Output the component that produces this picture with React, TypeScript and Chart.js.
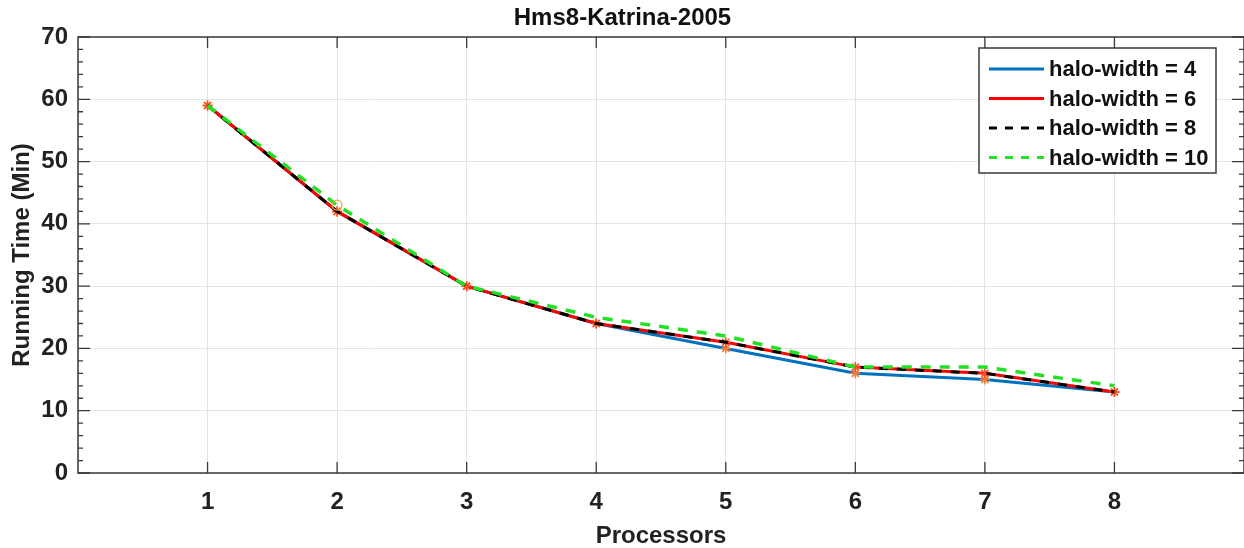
import React, { useEffect, useRef } from "react";
import { Chart, registerables } from "chart.js";

Chart.register(...registerables);

const processors = [1, 2, 3, 4, 5, 6, 7, 8];
const halo4 = [59, 42, 30, 24, 20, 16, 15, 13];
const halo6 = [59, 42, 30, 24, 21, 17, 16, 13];
const halo8 = [59, 42, 30, 24, 21, 17, 16, 13];
const halo10 = [59, 43, 30, 25, 22, 17, 17, 14];
const seriesLabels = ["halo-width = 4", "halo-width = 6", "halo-width = 8", "halo-width = 10"];
const yTicks = [0, 10, 20, 30, 40, 50, 60, 70];
const titleText = "Hms8-Katrina-2005";
const xTitle = "Processors";
const yTitle = "Running Time (Min)";

const FONT = "'Liberation Sans', Arial, sans-serif";

const framePlugin = {
  id: "frame",
  afterDatasetsDraw(chart: any) {
    const { ctx, chartArea: a, scales } = chart;
    const x = scales.x;
    const y = scales.y;
    ctx.save();
    ctx.strokeStyle = "#3a3a3a";
    ctx.lineWidth = 1.5;
    ctx.strokeRect(a.left, a.top, a.right - a.left, a.bottom - a.top);
    ctx.lineWidth = 1.3;
    ctx.beginPath();
    for (let v = 0; v <= 70; v += 2) {
      const py = y.getPixelForValue(v);
      const len = v % 10 === 0 ? 12 : 5;
      ctx.moveTo(a.left, py);
      ctx.lineTo(a.left + len, py);
      ctx.moveTo(a.right, py);
      ctx.lineTo(a.right - len, py);
    }
    for (const v of processors) {
      const px = x.getPixelForValue(v);
      ctx.moveTo(px, a.bottom);
      ctx.lineTo(px, a.bottom - 11);
      ctx.moveTo(px, a.top);
      ctx.lineTo(px, a.top + 11);
    }
    ctx.stroke();
    ctx.restore();
  },
  afterDraw(chart: any) {
    const { ctx, chartArea: a } = chart;
    const colors = ["#0072BD", "#FF0000", "#000000", "#22E022"];
    const dashes = [[], [], [8, 8], [8, 8]];
    const bx = a.right - 265;
    const by = a.top + 11;
    const bw = 237;
    const bh = 125;
    ctx.save();
    ctx.fillStyle = "#ffffff";
    ctx.fillRect(bx, by, bw, bh);
    ctx.strokeStyle = "#3a3a3a";
    ctx.lineWidth = 1.5;
    ctx.strokeRect(bx, by, bw, bh);
    ctx.font = `bold 22px ${FONT}`;
    ctx.textBaseline = "middle";
    ctx.fillStyle = "#111";
    seriesLabels.forEach((lab, i) => {
      const cy = by + 21 + i * 29.5;
      ctx.strokeStyle = colors[i];
      ctx.lineWidth = 3;
      ctx.setLineDash(dashes[i]);
      ctx.beginPath();
      ctx.moveTo(bx + 10, cy);
      ctx.lineTo(bx + 65, cy);
      ctx.stroke();
      ctx.setLineDash([]);
      ctx.fillText(lab, bx + 70, cy + 1);
    });
    ctx.restore();
  },
};

export default function App() {
  const ref = useRef<HTMLCanvasElement>(null);
  useEffect(() => {
    document.body.style.margin = "0";
    const mk = (arr: number[]) => processors.map((p, i) => ({ x: p, y: arr[i] }));
    const chart = new Chart(ref.current as HTMLCanvasElement, {
      type: "line",
      data: {
        datasets: [
          {
            label: seriesLabels[0],
            data: mk(halo4),
            borderColor: "#0072BD",
            borderWidth: 3,
            pointStyle: "star",
            pointRadius: 5,
            pointBorderColor: "#ff7a30",
            pointBorderWidth: 1.5,
            order: 4,
          },
          {
            label: seriesLabels[1],
            data: mk(halo6),
            borderColor: "#FF0000",
            borderWidth: 3,
            pointStyle: "star",
            pointRadius: 5,
            pointBorderColor: "#ff4a20",
            pointBorderWidth: 1.5,
            order: 3,
          },
          {
            label: seriesLabels[2],
            data: mk(halo8),
            borderColor: "#000000",
            borderWidth: 3,
            borderDash: [9, 9],
            pointRadius: 0,
            order: 2,
          },
          {
            label: seriesLabels[3],
            data: mk(halo10),
            borderColor: "#22E022",
            borderWidth: 3.5,
            borderDash: [10, 9],
            pointStyle: "circle",
            pointRadius: (c: any) => (c.dataIndex === 1 ? 5 : 0),
            pointBorderColor: "#f0a040",
            pointBackgroundColor: "rgba(0,0,0,0)",
            pointBorderWidth: 1.2,
            order: 1,
          },
        ],
      },
      options: {
        responsive: false,
        animation: false,
        layout: { autoPadding: false, padding: { left: 0, right: -1, top: 0, bottom: 0 } },
        plugins: {
          legend: { display: false },
          tooltip: { enabled: false },
          title: {
            display: true,
            text: titleText,
            color: "#111",
            font: { family: FONT, size: 24, weight: "bold", lineHeight: 1.2 },
            padding: { top: 4, bottom: 4.2 },
          },
        },
        scales: {
          x: {
            type: "linear",
            min: 0,
            max: 9,
            afterFit: (s: any) => {
              s.height = 75;
              s.paddingLeft = 0;
              s.paddingRight = 0;
            },
            afterBuildTicks: (s: any) => {
              s.ticks = [0, ...processors, 9].map((v) => ({ value: v }));
            },
            ticks: {
              padding: 15,
              color: "#222",
              font: { family: FONT, size: 24, weight: "bold" },
              callback: (v: any) => (v >= 1 && v <= 8 ? String(v) : ""),
            },
            grid: { color: "#e3e3e3", lineWidth: 1, drawTicks: false },
            border: { display: false },
            title: {
              display: true,
              text: xTitle,
              color: "#222",
              font: { family: FONT, size: 24, weight: "bold", lineHeight: 1.0 },
              padding: { top: 0, bottom: 0 },
            },
          },
          y: {
            min: 0,
            max: 70,
            afterFit: (s: any) => {
              s.width = 78;
              s.paddingTop = 0;
              s.paddingBottom = 0;
            },
            afterBuildTicks: (s: any) => {
              s.ticks = yTicks.map((v) => ({ value: v }));
            },
            ticks: {
              padding: 10,
              color: "#222",
              font: { family: FONT, size: 24, weight: "bold" },
            },
            grid: { color: "#e3e3e3", lineWidth: 1, drawTicks: false },
            border: { display: false },
            title: {
              display: true,
              text: yTitle,
              color: "#222",
              font: { family: FONT, size: 24, weight: "bold", lineHeight: 1.2 },
              padding: { top: 7.6, bottom: 0 },
            },
          },
        },
      },
      plugins: [framePlugin],
    } as any);
    return () => chart.destroy();
  }, []);
  return <canvas ref={ref} width={1244} height={548} style={{ display: "block" }} />;
}
